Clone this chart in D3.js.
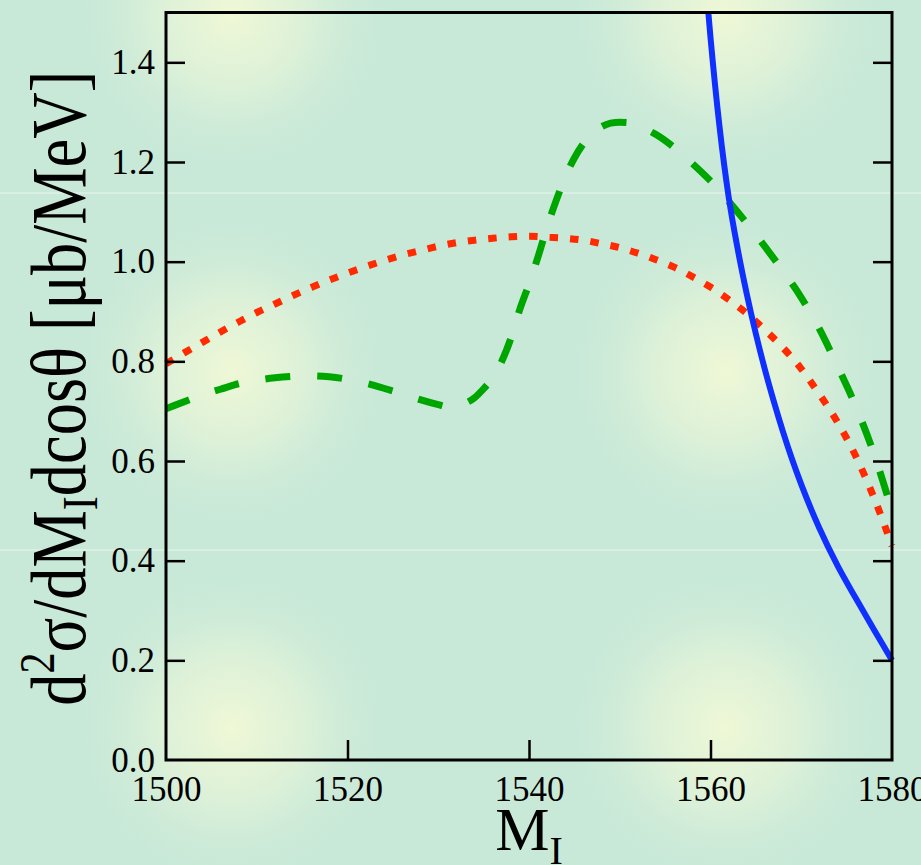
<!DOCTYPE html>
<html><head><meta charset="utf-8">
<script src="https://cdn.jsdelivr.net/npm/d3@7"></script>
<style>html,body{margin:0;padding:0;overflow:hidden;background:#c9e9d8}
svg text{font-family:'Liberation Serif','Times New Roman',serif;}</style>
</head><body><svg id="c" width="921" height="865"></svg>
<script>
const xTicks=[1500,1520,1540,1560,1580];
const yTicks=[0.0,0.2,0.4,0.6,0.8,1.0,1.2,1.4];
const yTickLabels=["0.0","0.2","0.4","0.6","0.8","1.0","1.2","1.4"];

const redMass=[1500,1502,1504,1506,1508,1510,1512,1514,1516,1518,1520,1522,1524,1526,1528,1530,1532,1534,1536,1538,1540,1542,1544,1546,1548,1550,1552,1554,1556,1558,1560,1562,1564,1566,1568,1570,1572,1574,1576,1578,1580];
const redValues=[0.795,0.817,0.838,0.859,0.879,0.898,0.915,0.932,0.948,0.963,0.977,0.990,1.002,1.013,1.022,1.031,1.038,1.043,1.047,1.050,1.051,1.049,1.047,1.043,1.036,1.028,1.017,1.004,0.989,0.970,0.949,0.924,0.896,0.863,0.827,0.785,0.734,0.678,0.610,0.527,0.430];

const greenMass=[1500,1502,1504,1506,1508,1510,1512,1514,1516,1518,1520,1522,1524,1526,1528,1530,1531,1532,1533,1534,1535,1536,1537,1538,1539,1540,1541,1542,1543,1544,1545,1546,1547,1548,1549,1550,1551,1552,1554,1556,1558,1560,1562,1564,1566,1568,1570,1572,1574,1576,1578,1580];
const greenValues=[0.705,0.719,0.733,0.744,0.755,0.762,0.767,0.770,0.771,0.769,0.764,0.756,0.746,0.735,0.723,0.713,0.709,0.710,0.716,0.727,0.745,0.767,0.800,0.846,0.905,0.955,1.010,1.070,1.123,1.170,1.208,1.237,1.258,1.271,1.278,1.280,1.279,1.273,1.255,1.229,1.197,1.162,1.121,1.077,1.030,0.981,0.928,0.865,0.790,0.710,0.615,0.500];

const blueMass=[1559,1559.5,1560,1561,1562,1563,1564,1565,1566,1567,1568,1569,1570,1572,1574,1576,1578,1580];
const blueValues=[1.66,1.555,1.45,1.27,1.13,1.025,0.935,0.855,0.783,0.718,0.658,0.603,0.553,0.465,0.390,0.325,0.262,0.200];

const W=921,H=865;
const svg=d3.select("#c");
const x=d3.scaleLinear().domain([1500,1580]).range([166,892]);
const y=d3.scaleLinear().domain([0,1.5]).range([760,12.5]);

// background
const defs=svg.append("defs");
const rg=defs.append("radialGradient").attr("id","spot");
rg.append("stop").attr("offset","0%").attr("stop-color","#eff8d6").attr("stop-opacity",1);
rg.append("stop").attr("offset","45%").attr("stop-color","#e2f3d8").attr("stop-opacity",0.8);
rg.append("stop").attr("offset","100%").attr("stop-color","#c9e9d8").attr("stop-opacity",0);
svg.append("rect").attr("width",W).attr("height",H).attr("fill","#c9e9d8");
const spotsX=[232,725], spotsY=[15,372,728];
spotsY.forEach(sy=>spotsX.forEach(sx=>{
  svg.append("circle").attr("cx",sx).attr("cy",sy).attr("r",160).attr("fill","url(#spot)");
}));
[193,550].forEach(ly=>svg.append("rect").attr("x",0).attr("y",ly-1).attr("width",W).attr("height",2).attr("fill","#ffffff").attr("opacity",0.3));

defs.append("clipPath").attr("id","plot").append("rect")
  .attr("x",160).attr("y",12.5).attr("width",740).attr("height",760);

const line=d3.line().x(d=>x(d[0])).y(d=>y(d[1])).curve(d3.curveMonotoneX);
const g=svg.append("g").attr("clip-path","url(#plot)");
g.append("path").datum(redMass.map((m,i)=>[m,redValues[i]]))
  .attr("d",line).attr("fill","none").attr("stroke","#ff2a00").attr("stroke-width",7)
  .attr("stroke-dasharray","8.5,12");
g.append("path").datum(greenMass.map((m,i)=>[m,greenValues[i]]))
  .attr("d",line).attr("fill","none").attr("stroke","#00a600").attr("stroke-width",7)
  .attr("stroke-dasharray","25,27");
g.append("path").datum(blueMass.map((m,i)=>[m,blueValues[i]]))
  .attr("d",line).attr("fill","none").attr("stroke","#1030ff").attr("stroke-width",6);

// frame
svg.append("rect").attr("x",x(1500)).attr("y",y(1.5)).attr("width",x(1580)-x(1500)).attr("height",y(0)-y(1.5))
  .attr("fill","none").attr("stroke","#000").attr("stroke-width",3);

const tickFont="'Liberation Serif','Times New Roman',serif";
const yAxisL=d3.axisLeft(y).tickValues(yTicks).tickSize(-19).tickFormat((d,i)=>yTickLabels[i]).tickPadding(11);
const gl=svg.append("g").attr("transform",`translate(${x(1500)},0)`).call(yAxisL);
gl.attr("font-family",null).attr("font-size",null);
gl.select(".domain").remove();
gl.selectAll(".tick line").attr("stroke","#000").attr("stroke-width",2.5);
gl.selectAll(".tick text").style("font-family",tickFont).style("font-size","35px").attr("fill","#000");
gl.selectAll(".tick").filter(d=>d===0).select("line").remove();

const yAxisR=d3.axisRight(y).tickValues(yTicks.filter(d=>d>0)).tickSize(-19).tickFormat("");
const gr=svg.append("g").attr("transform",`translate(${x(1580)},0)`).call(yAxisR);
gr.select(".domain").remove();
gr.selectAll(".tick line").attr("stroke","#000").attr("stroke-width",2.5);

const xAxisB=d3.axisBottom(x).tickValues(xTicks).tickSize(-20).tickFormat(d3.format("d")).tickPadding(16);
const gb=svg.append("g").attr("transform",`translate(0,${y(0)})`).call(xAxisB);
gb.attr("font-family",null).attr("font-size",null);
gb.select(".domain").remove();
gb.selectAll(".tick line").attr("stroke","#000").attr("stroke-width",2.5);
gb.selectAll(".tick").filter(d=>d===1500||d===1580).select("line").remove();
gb.selectAll(".tick text").style("font-family",tickFont).style("font-size","35px").attr("fill","#000");

// x label
const xl=svg.append("text").attr("x",(x(1500)+x(1580))/2).attr("y",850).attr("text-anchor","middle")
  .style("font-family",tickFont).style("font-size","61px").attr("fill","#000");
xl.append("tspan").text("M");
xl.append("tspan").style("font-size","40px").attr("dy",14).text("I");

// y label
const yl=svg.append("text").attr("transform",`translate(85,${(y(0)+y(1.5))/2+2}) rotate(-90) scale(1,1.2)`)
  .attr("text-anchor","middle").style("font-family",tickFont).style("font-size","64.5px").attr("fill","#000");
yl.append("tspan").text("d");
yl.append("tspan").style("font-size","42px").attr("dy",-26).text("2");
yl.append("tspan").attr("dy",26).text("σ/dM");
yl.append("tspan").style("font-size","42px").attr("dy",10).text("I");
yl.append("tspan").attr("dy",-10).text("dcosθ [μb/MeV]");
</script></body></html>
